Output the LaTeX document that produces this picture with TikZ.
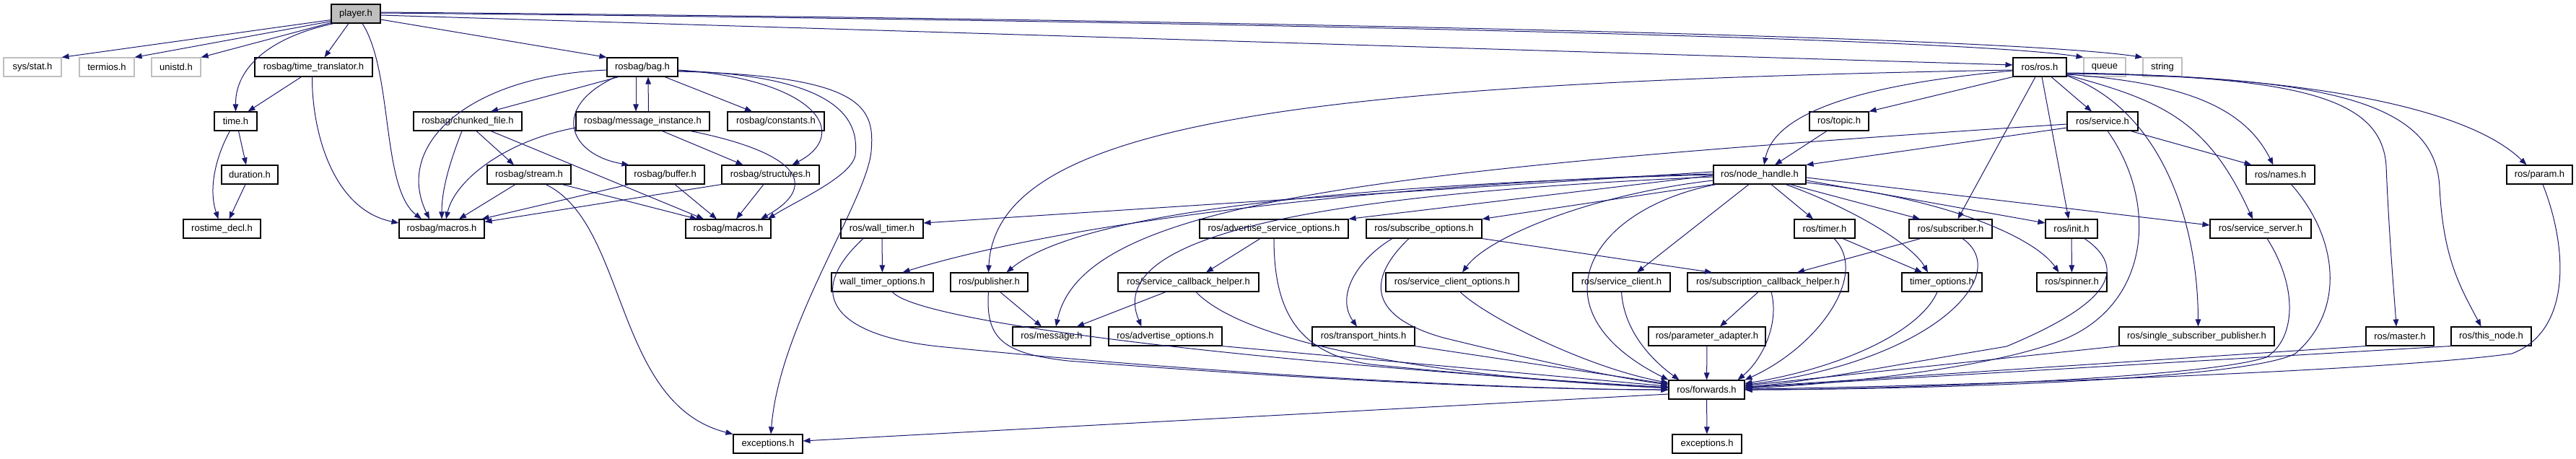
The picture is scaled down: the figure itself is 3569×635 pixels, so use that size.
\documentclass[tikz,border=0pt]{standalone}
\usepackage{fontspec}
\setmainfont{Liberation Sans}
\usetikzlibrary{arrows.meta}
\definecolor{edgeblue}{HTML}{191970}
\definecolor{lgray}{HTML}{BFBFBF}
\begin{document}
\begin{tikzpicture}[x=1pt,y=-1pt,
  box/.style={draw=black, line width=1.1pt, fill=white, rectangle, minimum height=26pt, inner xsep=8pt, inner ysep=0pt, font=\fontsize{13pt}{15pt}\selectfont},
  sysbox/.style={box, draw=lgray},
  mainbox/.style={box, fill=lgray},
  dep/.style={draw=edgeblue, line width=1pt, -{Triangle[length=10pt,width=7.5pt]}}]
\useasboundingbox (0,0) rectangle (3569,635);
% rank 0
\node[mainbox, minimum width=68pt] (player) at (493,19) {player.h};
% rank 1
\node[sysbox, minimum width=80pt] (sysstat) at (45,93) {sys/stat.h};
\node[sysbox, minimum width=76pt] (termios) at (148,93) {termios.h};
\node[sysbox, minimum width=68pt] (unistd) at (244,93) {unistd.h};
\node[box, minimum width=163pt] (tt) at (434.5,93) {rosbag/time\_translator.h};
\node[box, minimum width=98pt] (bag) at (890,93) {rosbag/bag.h};
\node[box, minimum width=74pt] (ros) at (2826,93) {ros/ros.h};
\node[sysbox, minimum width=58pt] (queue) at (2916,93) {queue};
\node[sysbox, minimum width=54pt] (stringn) at (2996,93) {string};
% rank 2
\node[box, minimum width=59pt] (time) at (326.5,168) {time.h};
\node[box, minimum width=150pt] (chunked) at (648,168) {rosbag/chunked\_file.h};
\node[box, minimum width=185pt] (msginst) at (890.5,168) {rosbag/message\_instance.h};
\node[box, minimum width=134pt] (constants) at (1075,168) {rosbag/constants.h};
\node[box, minimum width=82pt] (topic) at (2548,168) {ros/topic.h};
\node[box, minimum width=98pt] (service) at (2913,168) {ros/service.h};
% rank 3
\node[box, minimum width=78pt] (duration) at (346,242) {duration.h};
\node[box, minimum width=116pt] (stream) at (733,242) {rosbag/stream.h};
\node[box, minimum width=109pt] (buffer) at (921.5,242) {rosbag/buffer.h};
\node[box, minimum width=135pt] (structures) at (1067.5,242) {rosbag/structures.h};
\node[box, minimum width=128pt] (nh) at (2438,242) {ros/node\_handle.h};
\node[box, minimum width=95pt] (names) at (3159.5,242) {ros/names.h};
\node[box, minimum width=91pt] (param) at (3518.5,242) {ros/param.h};
% rank 4
\node[box, minimum width=107pt] (rostimedecl) at (307.5,317) {rostime\_decl.h};
\node[box, minimum width=118pt] (macrosL) at (612,317) {rosbag/macros.h};
\node[box, minimum width=118pt] (macrosR) at (1009,317) {rosbag/macros.h};
\node[box, minimum width=114pt] (walltimer) at (1222,317) {ros/wall\_timer.h};
\node[box, minimum width=206pt] (aso) at (1765,317) {ros/advertise\_service\_options.h};
\node[box, minimum width=160pt] (subopts) at (1973,317) {ros/subscribe\_options.h};
\node[box, minimum width=84pt] (timer) at (2528,317) {ros/timer.h};
\node[box, minimum width=115pt] (subscriber) at (2702.5,317) {ros/subscriber.h};
\node[box, minimum width=72pt] (init) at (2870,317) {ros/init.h};
\node[box, minimum width=140pt] (sserver) at (3132,317) {ros/service\_server.h};
% rank 5
\node[box, minimum width=141pt] (wto) at (1222.5,391) {wall\_timer\_options.h};
\node[box, minimum width=107pt] (publisher) at (1370.5,391) {ros/publisher.h};
\node[box, minimum width=195pt] (scbh) at (1646.5,391) {ros/service\_callback\_helper.h};
\node[box, minimum width=184pt] (sco) at (2012,391) {ros/service\_client\_options.h};
\node[box, minimum width=135pt] (sclient) at (2246.5,391) {ros/service\_client.h};
\node[box, minimum width=223pt] (subcbh) at (2449.5,391) {ros/subscription\_callback\_helper.h};
\node[box, minimum width=111pt] (timeropts) at (2690.5,391) {timer\_options.h};
\node[box, minimum width=97pt] (spinner) at (2870.5,391) {ros/spinner.h};
% rank 6
\node[box, minimum width=108pt] (message) at (1457,466) {ros/message.h};
\node[box, minimum width=157pt] (advopts) at (1614.5,466) {ros/advertise\_options.h};
\node[box, minimum width=142pt] (transport) at (1889,466) {ros/transport\_hints.h};
\node[box, minimum width=162pt] (padapter) at (2365,466) {ros/parameter\_adapter.h};
\node[box, minimum width=215pt] (ssp) at (3043.5,466) {ros/single\_subscriber\_publisher.h};
\node[box, minimum width=94pt] (master) at (3325,466) {ros/master.h};
\node[box, minimum width=111pt] (thisnode) at (3451.5,466) {ros/this\_node.h};
% rank 7
\node[box, minimum width=105pt] (fwd) at (2364.5,540) {ros/forwards.h};
% rank 8
\node[box, minimum width=96pt] (excA) at (1064,615) {exceptions.h};
\node[box, minimum width=96pt] (excB) at (2365,615) {exceptions.h};

% ---- player.h
\draw[dep] ([yshift=5pt]player.south west) -- (sysstat.north east);
\draw[dep] ([yshift=3pt]player.south west) -- (termios.north east);
\draw[dep] ([yshift=1pt]player.south west) -- (unistd.north east);
\draw[dep] ([xshift=4pt]player.south west) .. controls (380,50) and (326,90) .. (time.north);
\draw[dep] ([xshift=-10pt]player.south) -- ([xshift=15pt]tt.north);
\draw[dep] ([xshift=9pt]player.south) .. controls (545,100) and (528,260) .. ([xshift=-28pt]macrosL.north);
\draw[dep] ([yshift=-8pt]player.east) -- (bag.north west);
\draw[dep] ([yshift=-2pt]player.east) -- ([yshift=3pt]ros.west);
\draw[dep] ([yshift=1pt]player.east) .. controls (1500,27) and (2700,50) .. (queue.north west);
\draw[dep] ([yshift=2pt]player.east) .. controls (1500,25) and (2760,48) .. (stringn.north west);
% ---- time translator / time
\draw[dep] ([xshift=-17pt]tt.south) -- ([xshift=17pt]time.north);
\draw[dep] ([xshift=-2pt]tt.south) .. controls (432,180) and (460,290) .. ([yshift=8pt]macrosL.west);
\draw[dep] ([xshift=4pt]time.south) -- ([xshift=-5pt]duration.north);
\draw[dep] ([xshift=-8pt]time.south) .. controls (300,215) and (288,260) .. ([xshift=-5pt]rostimedecl.north);
\draw[dep] ([xshift=-6pt]duration.south) -- ([xshift=10pt]rostimedecl.north);
% ---- bag.h
\draw[dep] ([yshift=-4pt]bag.west) .. controls (650,105) and (545,200) .. ([xshift=-17pt]macrosL.north);
\draw[dep] ([xshift=-33pt]bag.south) -- ([xshift=32pt]chunked.north);
\draw[dep] ([xshift=-9pt]bag.south) -- ([xshift=-9.5pt]msginst.north);
\draw[dep] ([xshift=8pt]msginst.north) -- ([xshift=8pt]bag.south);
\draw[dep] ([xshift=31pt]bag.south) -- ([xshift=-33pt]constants.north);
\draw[dep] ([xshift=-37pt]bag.south) .. controls (760,150) and (790,215) .. ([xshift=5pt]buffer.north west);
\draw[dep] ([yshift=-4pt]bag.east) .. controls (1130,110) and (1180,185) .. ([xshift=30pt]structures.north);
\draw[dep] ([yshift=-5pt]bag.east) .. controls (1170,105) and (1190,170) .. (1185,215) .. controls (1180,245) and (1100,280) .. ([xshift=55pt]macrosR.north);
\draw[dep] ([yshift=-6pt]bag.east) .. controls (1200,105) and (1212,150) .. (1207,210) .. controls (1200,280) and (1080,450) .. ([xshift=4pt]excA.north);
% ---- message_instance
\draw[dep] ([xshift=27pt]msginst.south) -- ([xshift=-38pt]structures.north);
\draw[dep] ([xshift=66pt]msginst.south) .. controls (1100,210) and (1140,255) .. ([xshift=45pt]macrosR.north);
\draw[dep] ([yshift=-9pt]msginst.west) .. controls (700,195) and (630,250) .. ([xshift=6pt]macrosL.north);
% ---- chunked_file
\draw[dep] ([xshift=-8pt]chunked.south) .. controls (625,220) and (612,260) .. (macrosL.north);
\draw[dep] ([xshift=12pt]chunked.south) -- ([xshift=-21pt]stream.north);
\draw[dep] ([xshift=32pt]chunked.south) -- ([xshift=-34pt]macrosR.north);
% ---- stream
\draw[dep] ([xshift=-19pt]stream.south) -- ([xshift=24pt]macrosL.north);
\draw[dep] ([xshift=46pt]stream.south) -- ([xshift=-43pt]macrosR.north);
\draw[dep] ([xshift=23pt]stream.south) .. controls (870,310) and (850,560) .. (excA.north west);
% ---- buffer, structures
\draw[dep] ([xshift=5pt]buffer.south west) -- ([xshift=-4pt]macrosL.north east);
\draw[dep] ([xshift=13.5pt]buffer.south) -- ([xshift=-16pt]macrosR.north);
\draw[dep] (structures.south west) -- ([yshift=-4pt]macrosL.north east);
\draw[dep] ([xshift=-9.5pt]structures.south) -- ([xshift=11pt]macrosR.north);
% ---- ros.h
\draw[dep] ([yshift=-5pt]ros.west) .. controls (2600,115) and (2460,150) .. ([xshift=6pt]nh.north);
\draw[dep] (ros.south west) -- (topic.north east);
\draw[dep] ([xshift=-6pt]ros.south) -- ([xshift=10pt]subscriber.north);
\draw[dep] ([xshift=3pt]ros.south) -- ([xshift=-4pt]init.north);
\draw[dep] ([xshift=16pt]ros.south) -- ([xshift=-15pt]service.north);
\draw[dep] ([yshift=-10pt]ros.east) .. controls (3030,115) and (3110,150) .. ([xshift=-10pt]names.north);
\draw[dep] ([yshift=-11pt]ros.east) .. controls (3000,140) and (3060,170) .. ([xshift=-11pt]sserver.north);
\draw[dep] ([yshift=-12pt]ros.east) .. controls (2990,150) and (3045,300) .. ([xshift=2pt]ssp.north);
\draw[dep] ([yshift=-9pt]ros.east) .. controls (3200,105) and (3300,140) .. (3306,230) .. controls (3310,330) and (3318,420) .. ([xshift=-5pt]master.north);
\draw[dep] ([yshift=-9pt]ros.east) .. controls (3250,105) and (3375,150) .. (3380,260) .. controls (3385,360) and (3410,400) .. ([xshift=-14pt]thisnode.north);
\draw[dep] ([yshift=-8pt]ros.east) .. controls (3200,105) and (3420,150) .. ([xshift=-18pt]param.north);
\draw[dep] ([yshift=-4pt]ros.west) .. controls (1800,115) and (1380,170) .. ([xshift=-1pt]publisher.north);
% ---- service.h
\draw[dep] ([yshift=-9pt]service.west) -- (nh.north east);
\draw[dep] ([yshift=-4pt]service.west) .. controls (1900,235) and (1500,280) .. ([xshift=6pt]message.north);
\draw[dep] ([xshift=39pt]service.south) -- ([xshift=-40pt]names.north);
\draw[dep] ([xshift=7pt]service.south) .. controls (2990,280) and (2980,420) .. (2860,470) .. controls (2750,515) and (2500,535) .. (fwd);
% ---- topic
\draw[dep] ([xshift=-17pt]topic.south) -- ([xshift=21pt]nh.north);
% ---- node_handle
\draw[dep] ([yshift=4pt]nh.west) -- ([yshift=8pt]walltimer.east);
\draw[dep] ([yshift=1pt]nh.west) .. controls (2000,250) and (1500,300) .. ([xshift=28pt]wto.north);
\draw[dep] (nh.west) .. controls (1900,255) and (1500,290) .. ([xshift=24pt]publisher.north);
\draw[dep] ([yshift=-1pt]nh.west) -- (aso.north east);
\draw[dep] (nh.south west) -- (subopts.north east);
\draw[dep] ([yshift=-3pt]nh.west) .. controls (1800,270) and (1530,330) .. ([xshift=-33pt]advopts.north);
\draw[dep] ([yshift=-8pt]nh.west) .. controls (2200,270) and (2060,330) .. ([xshift=14pt]sco.north);
\draw[dep] ([xshift=4pt]nh.south west) .. controls (2200,290) and (2120,430) .. (fwd.north west);
\draw[dep] ([xshift=-15pt]nh.south) -- ([xshift=21.5pt]sclient.north);
\draw[dep] ([xshift=16pt]nh.south) -- ([xshift=-16pt]timer.north);
\draw[dep] ([xshift=36pt]nh.south) .. controls (2570,290) and (2650,340) .. ([xshift=-19.5pt]timeropts.north);
\draw[dep] ([xshift=42pt]nh.south) -- ([xshift=-42.5pt]subscriber.north);
\draw[dep] ([yshift=-4pt]nh.east) -- ([yshift=5pt]sserver.west);
\draw[dep] ([yshift=-8pt]nh.east) -- ([yshift=8pt]init.west);
\draw[dep] ([yshift=-11pt]nh.east) .. controls (2700,275) and (2820,330) .. ([xshift=-18pt]spinner.north);
% ---- wall timer
\draw[dep] (walltimer) -- (wto);
\draw[dep] ([xshift=-26pt]walltimer.south) .. controls (1110,410) and (1160,465) .. (1300,480) .. controls (1700,520) and (2100,540) .. (fwd);
\draw[dep] ([xshift=14pt]wto.south) .. controls (1270,445) and (1700,500) .. (fwd);
% ---- publisher
\draw[dep] ([xshift=15pt]publisher.south) -- ([xshift=-14pt]message.north);
\draw[dep] ([xshift=-1pt]publisher.south) .. controls (1365,470) and (1390,490) .. (1480,500) .. controls (1800,525) and (2100,540) .. (fwd);
% ---- advertise service options
\draw[dep] ([xshift=-19pt]aso.south) -- ([xshift=24.5pt]scbh.north);
\draw[dep] (aso.south) .. controls (1765,420) and (1790,490) .. (1900,505) .. controls (2100,525) and (2250,535) .. (fwd);
% ---- subscribe options
\draw[dep] ([xshift=-44pt]subopts.south) .. controls (1880,360) and (1850,410) .. ([xshift=-9pt]transport.north);
\draw[dep] ([xshift=-21pt]subopts.south) .. controls (1890,390) and (1900,440) .. (2000,468) .. controls (2150,505) and (2250,525) .. (fwd);
\draw[dep] (subopts.south east) -- ([xshift=-77.5pt]subcbh.north);
% ---- service callback helper
\draw[dep] ([xshift=-31.5pt]scbh.south) -- ([xshift=35pt]message.north);
\draw[dep] ([xshift=10.5pt]scbh.south) .. controls (1720,470) and (1950,520) .. (fwd);
% ---- rank 5/6 into forwards
\draw[dep] (advopts.south east) -- (fwd);
\draw[dep] (transport.south east) -- (fwd);
\draw[dep] ([xshift=11pt]sco.south) .. controls (2060,440) and (2200,510) .. (fwd);
\draw[dep] (sclient.south) .. controls (2250,460) and (2290,500) .. ([xshift=-38pt]fwd.north);
\draw[dep] ([xshift=-13.5pt]subcbh.south) -- ([xshift=18pt]padapter.north);
\draw[dep] ([xshift=4.5pt]subcbh.south) .. controls (2466,450) and (2440,500) .. ([xshift=43pt]fwd.north);
\draw[dep] (padapter) -- (fwd);
% ---- timer
\draw[dep] ([xshift=25pt]timer.south) -- ([xshift=-27.5pt]timeropts.north);
\draw[dep] ([xshift=13pt]timer.south) .. controls (2590,380) and (2520,480) .. (fwd.north east);
% ---- subscriber
\draw[dep] ([xshift=-41.5pt]subscriber.south) -- ([xshift=40.5pt]subcbh.north);
\draw[dep] ([xshift=16.5pt]subscriber.south) .. controls (2790,380) and (2680,500) .. (fwd);
\draw[dep] ([xshift=-6.5pt]timeropts.south) .. controls (2660,460) and (2550,510) .. (fwd);
% ---- init
\draw[dep] (init) -- (spinner);
\draw[dep] ([xshift=18pt]init.south) .. controls (2960,380) and (2900,430) .. (2780,480) .. controls (2600,510) and (2500,530) .. (fwd);
% ---- right side into forwards
\draw[dep] ([xshift=15pt]names.south) .. controls (3240,330) and (3250,430) .. (3180,490) .. controls (3100,530) and (2600,540) .. (fwd);
\draw[dep] ([xshift=9pt]sserver.south) .. controls (3185,400) and (3180,470) .. (3140,495) .. controls (3050,525) and (2600,540) .. (fwd);
\draw[dep] (ssp.south west) -- (fwd);
\draw[dep] (master.south west) -- (fwd);
\draw[dep] (thisnode.south west) -- (fwd);
\draw[dep] ([xshift=4.5pt]param.south) .. controls (3560,350) and (3560,460) .. (3480,490) .. controls (3300,515) and (2700,535) .. (fwd);
% ---- forwards
\draw[dep] (fwd) -- (excB);
\draw[dep] ([yshift=-6pt]fwd.west) -- ([yshift=4pt]excA.east);
\end{tikzpicture}
\end{document}
